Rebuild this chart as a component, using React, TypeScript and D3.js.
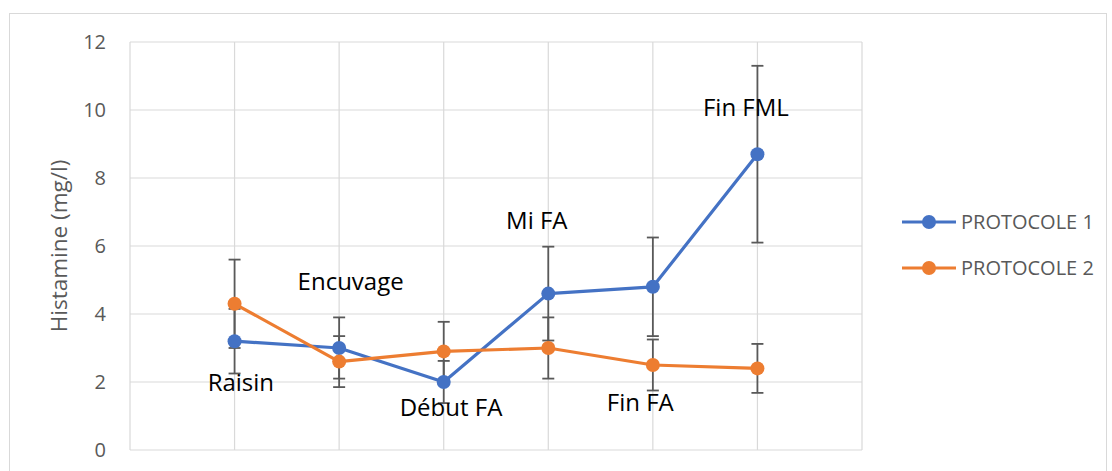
import React from "react";
import * as d3 from "d3";

const categories = ["Raisin", "Encuvage", "Début FA", "Mi FA", "Fin FA", "Fin FML"];
const protocole1 = [3.2, 3.0, 2.0, 4.6, 4.8, 8.7];
const protocole1Err = [0.95, 0.9, 0.62, 1.38, 1.45, 2.6];
const protocole2 = [4.3, 2.6, 2.9, 3.0, 2.5, 2.4];
const protocole2Err = [1.3, 0.75, 0.87, 0.9, 0.75, 0.72];
// label anchor positions in data units (x index, y value)
const labelX = [1.06, 2.11, 3.07, 3.89, 4.88, 5.89];
const labelY = [1.97, 4.94, 1.26, 6.76, 1.38, 10.06];
const yTicks = [0, 2, 4, 6, 8, 10, 12];
const seriesNames = ["PROTOCOLE 1", "PROTOCOLE 2"];
const colors = ["#4472C4", "#ED7D31"];

export default function App() {
  const W = 1112, H = 471;
  const left = 130, right = 862, top = 42, bottom = 450;
  const x = d3.scaleLinear().domain([0, 7]).range([left, right]);
  const y = d3.scaleLinear().domain([0, 12]).range([bottom, top]);
  const line = d3.line<number>().x((_, i) => x(i + 1)).y((d) => y(d));
  const series = [
    { name: seriesNames[0], vals: protocole1, err: protocole1Err, color: colors[0] },
    { name: seriesNames[1], vals: protocole2, err: protocole2Err, color: colors[1] },
  ];
  const font = "'Open Sans', 'Liberation Sans', sans-serif";
  return (
    <svg width={W} height={H} style={{ position: "absolute", left: 0, top: 0, background: "#fff" }}>
      <rect x={9.5} y={13.5} width={1097} height={470} fill="#fff" stroke="#d9d9d9" strokeWidth={1} />
      {/* grid */}
      {yTicks.map((t) => (
        <line key={"h" + t} x1={left} x2={right} y1={y(t)} y2={y(t)} stroke="#d9d9d9" strokeWidth={1.2} />
      ))}
      {d3.range(0, 8).map((i) => (
        <line key={"v" + i} x1={x(i)} x2={x(i)} y1={top} y2={bottom} stroke="#d9d9d9" strokeWidth={1.2} />
      ))}
      {yTicks.map((t) => (
        <text key={"t" + t} x={left - 24} y={y(t)} dy="0.35em" textAnchor="end" fontSize={20} fill="#595959" fontFamily={font}>
          {t}
        </text>
      ))}
      <text
        transform={`translate(67,246) rotate(-90)`}
        textAnchor="middle"
        fontSize={22.5}
        fill="#595959"
        fontFamily={font}
      >
        Histamine (mg/l)
      </text>
      {/* error bars */}
      {series.map((s, si) =>
        s.vals.map((v, i) => {
          const cx = x(i + 1);
          const y1 = y(v + s.err[i]);
          const y2 = y(v - s.err[i]);
          return (
            <g key={"e" + si + i} stroke="#595959" strokeWidth={1.8}>
              <line x1={cx} x2={cx} y1={y1} y2={y2} />
              <line x1={cx - 6} x2={cx + 6} y1={y1} y2={y1} />
              <line x1={cx - 6} x2={cx + 6} y1={y2} y2={y2} />
            </g>
          );
        })
      )}
      {series.map((s, si) => (
        <g key={"s" + si}>
          <path d={line(s.vals) || ""} fill="none" stroke={s.color} strokeWidth={3.2} strokeLinejoin="round" />
          {s.vals.map((v, i) => (
            <circle key={i} cx={x(i + 1)} cy={y(v)} r={7} fill={s.color} />
          ))}
        </g>
      ))}
      {categories.map((c, i) => (
        <text key={"l" + i} x={x(labelX[i])} y={y(labelY[i])} dy="0.35em" textAnchor="middle" fontSize={24} fill="#000" fontFamily={font}>
          {c}
        </text>
      ))}
      {/* legend */}
      {series.map((s, si) => {
        const ly = 222 + si * 46;
        return (
          <g key={"lg" + si}>
            <line x1={902} x2={956} y1={ly} y2={ly} stroke={s.color} strokeWidth={3.2} />
            <circle cx={929} cy={ly} r={7} fill={s.color} />
            <text x={961} y={ly} dy="0.35em" fontSize={20} fill="#595959" fontFamily={font}>
              {s.name}
            </text>
          </g>
        );
      })}
    </svg>
  );
}
